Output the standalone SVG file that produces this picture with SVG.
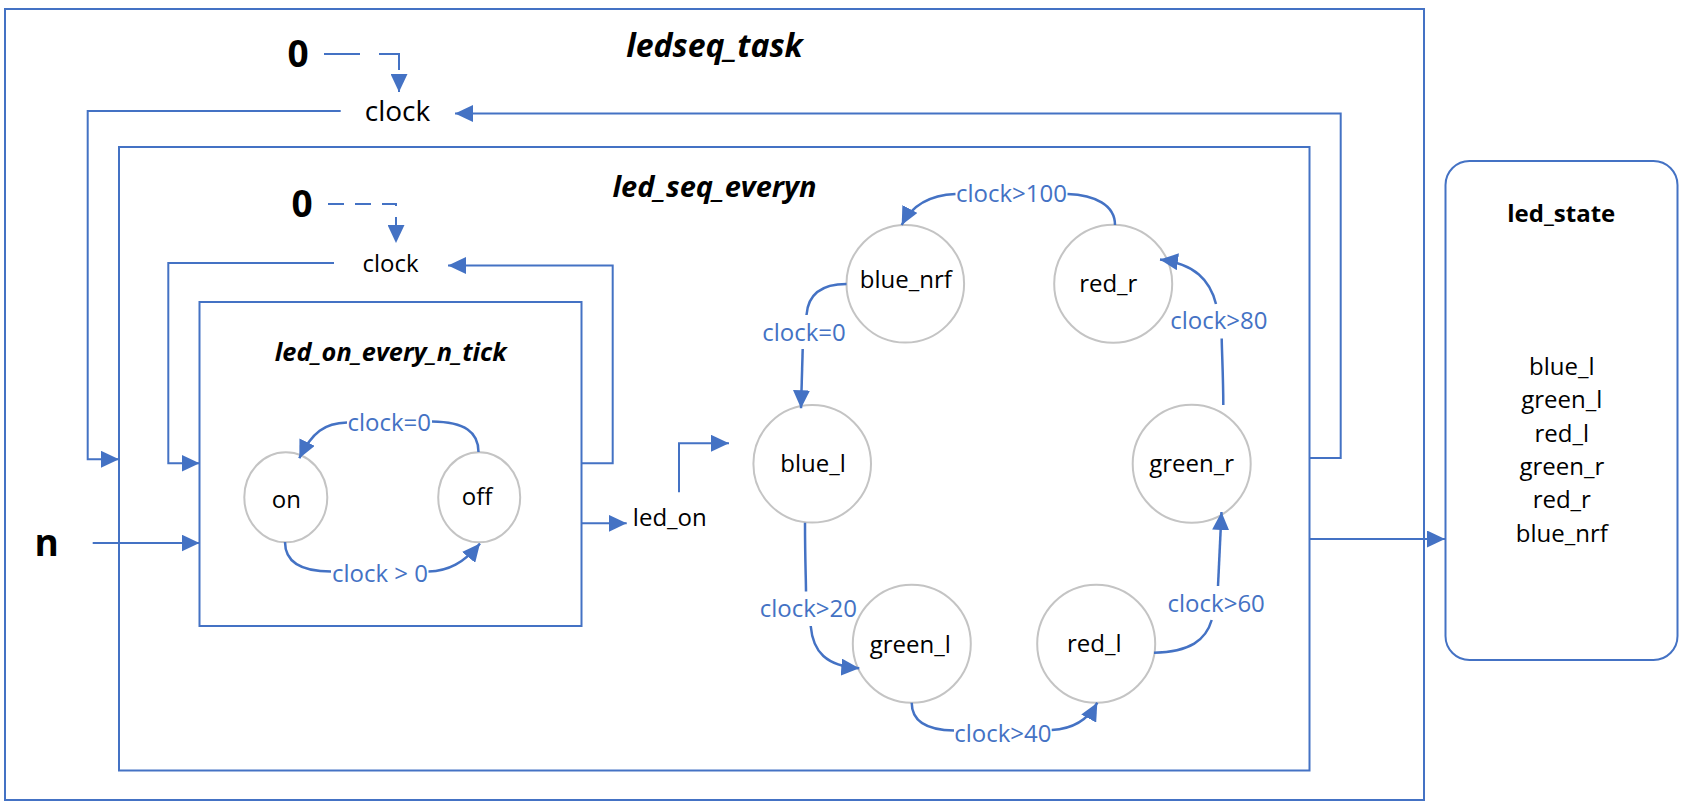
<svg xmlns="http://www.w3.org/2000/svg" width="1688" height="810" viewBox="0 0 1688 810">
<style>
.box{fill:none;stroke:#4472C4;stroke-width:2}
.st{fill:#fff;stroke:#C4C4C4;stroke-width:2}
.ln{fill:none;stroke:#4472C4;stroke-width:2}
.arc{fill:none;stroke:#4472C4;stroke-width:2.5}
.t{font-family:"Open Sans","Noto Sans",sans-serif;fill:#000;text-anchor:middle}
.lab{font-family:"Open Sans","Noto Sans",sans-serif;fill:#4472C4;text-anchor:middle;font-size:24px}
.s24{font-size:24px}
.big{font-size:37px;font-weight:bold}
.ttl{font-weight:bold;font-style:italic}
</style>
<defs>
<marker id="ah" markerUnits="userSpaceOnUse" markerWidth="18" markerHeight="17" refX="18" refY="8.5" orient="auto"><path d="M0,0 L18,8.5 L0,17 z" fill="#4472C4"/></marker>
</defs>
<rect width="1688" height="810" fill="#fff"/>

<g id="ledseq_task">
<rect class="box" x="5" y="9" width="1419" height="791"/>
<text class="t ttl" x="714.5" y="57" font-size="32">ledseq_task</text>
</g>
<g id="zero_top"><text class="t big" x="298" y="67">0</text></g>
<g id="clock_top"><text class="t" x="397.5" y="120.7" font-size="28">clock</text></g>

<g id="led_seq_everyn">
<rect class="box" x="119" y="147" width="1190.5" height="623.5"/>
<text class="t ttl" x="714.5" y="196.7" font-size="29">led_seq_everyn</text>
</g>
<g id="zero_inner"><text class="t big" x="302" y="217">0</text></g>
<g id="clock_inner"><text class="t s24" x="390.5" y="271.7">clock</text></g>
<g id="n_input"><text class="t big" x="46.7" y="556">n</text></g>

<g id="led_on_every_n_tick">
<rect class="box" x="199.5" y="302" width="382" height="324"/>
<text class="t ttl" x="390.8" y="361" font-size="25.3">led_on_every_n_tick</text>
</g>
<g id="on"><ellipse class="st" cx="285.8" cy="497.3" rx="41.5" ry="45"/><text class="t s24" x="286.3" y="507.7">on</text></g>
<g id="off"><ellipse class="st" cx="479.2" cy="497.3" rx="41" ry="45"/><text class="t s24" x="477" y="505">off</text></g>
<g id="led_on"><text class="t s24" x="669.8" y="526">led_on</text></g>

<g id="blue_nrf"><circle class="st" cx="905.3" cy="283.8" r="58.8"/><text class="t s24" x="905.8" y="288.3">blue_nrf</text></g>
<g id="red_r"><circle class="st" cx="1113.2" cy="283.8" r="59"/><text class="t s24" x="1108.3" y="291.7">red_r</text></g>
<g id="blue_l"><circle class="st" cx="812.2" cy="463.8" r="58.8"/><text class="t s24" x="813" y="471.7">blue_l</text></g>
<g id="green_r"><circle class="st" cx="1191.7" cy="463.8" r="59"/><text class="t s24" x="1191.7" y="471.7">green_r</text></g>
<g id="green_l"><circle class="st" cx="911.8" cy="643.8" r="59"/><text class="t s24" x="910.3" y="653.3">green_l</text></g>
<g id="red_l"><circle class="st" cx="1096.2" cy="643.8" r="59"/><text class="t s24" x="1094.3" y="651.7">red_l</text></g>

<g id="led_state">
<rect class="box" x="1445.5" y="161" width="232" height="499" rx="24"/>
<text class="t s24" x="1561.3" y="222" font-weight="bold">led_state</text>
<text class="t s24" x="1561.8" y="375">blue_l</text>
<text class="t s24" x="1561.8" y="408.3">green_l</text>
<text class="t s24" x="1561.8" y="441.6">red_l</text>
<text class="t s24" x="1561.8" y="474.9">green_r</text>
<text class="t s24" x="1561.8" y="508.2">red_r</text>
<text class="t s24" x="1561.8" y="541.5">blue_nrf</text>
</g>

<g id="connectors">
<path class="ln" d="M324,54 H399 V92" stroke-dasharray="36 19" marker-end="url(#ah)"/>
<path class="ln" d="M328,204 H396 V243" stroke-dasharray="16 11" marker-end="url(#ah)"/>
<path class="ln" d="M340.7,111 H87.7 V459.3 H119" marker-end="url(#ah)"/>
<path class="ln" d="M1309.5,458 H1340.7 V113.5 H455" marker-end="url(#ah)"/>
<path class="ln" d="M334,263 H168.3 V463.3 H199.5" marker-end="url(#ah)"/>
<path class="ln" d="M581.5,463.3 H612.7 V265.5 H448" marker-end="url(#ah)"/>
<path class="ln" d="M92.7,543 H199.5" marker-end="url(#ah)"/>
<path class="ln" d="M581.5,523.3 H626.7" marker-end="url(#ah)"/>
<path class="ln" d="M679,492.3 V443.3 H729" marker-end="url(#ah)"/>
<path class="ln" d="M1309.5,539 H1445" marker-end="url(#ah)"/>

<path class="arc" d="M478.5,452 C478.5,432 465,422 432,421.5"/>
<path class="arc" d="M347,422.5 C325,423 312,432 299.3,458.3" marker-end="url(#ah)"/>
<text class="lab" x="389.3" y="430.7">clock=0</text>

<path class="arc" d="M285,542 C285,562 300,571.5 331,571.5"/>
<path class="arc" d="M428.5,571.5 C448,571 464,563 480,543.5" marker-end="url(#ah)"/>
<text class="lab" x="380" y="581.7">clock &gt; 0</text>

<path class="arc" d="M1115,225 C1115,205 1095,195 1067.5,194"/>
<path class="arc" d="M955.5,194 C930,195 912,205 901.7,225" marker-end="url(#ah)"/>
<text class="lab" x="1011.5" y="201.7">clock&gt;100</text>

<path class="arc" d="M846.5,284 C820,284 808,295 806.5,315"/>
<path class="arc" d="M802.7,349 L801,408.3" marker-end="url(#ah)"/>
<text class="lab" x="804" y="340.7">clock=0</text>

<path class="arc" d="M805,522.7 C805,560 806,580 806,591.5"/>
<path class="arc" d="M810.7,626 C813,652 826,666 859.3,668.3" marker-end="url(#ah)"/>
<text class="lab" x="808.3" y="616.7">clock&gt;20</text>

<path class="arc" d="M911.7,702.7 C911.7,720 925,730 954,730.5"/>
<path class="arc" d="M1051.7,730 C1075,729 1089,718 1097.3,702.7" marker-end="url(#ah)"/>
<text class="lab" x="1002.8" y="741.7">clock&gt;40</text>

<path class="arc" d="M1154,652.7 C1190,652 1206,640 1211.7,620"/>
<path class="arc" d="M1218,586 L1221.5,512" marker-end="url(#ah)"/>
<text class="lab" x="1216.2" y="612">clock&gt;60</text>

<path class="arc" d="M1223.3,405 C1223.3,380 1222,355 1221.7,338.5"/>
<path class="arc" d="M1216,304 C1210,280 1195,264 1160,259.5" marker-end="url(#ah)"/>
<text class="lab" x="1218.8" y="328.5">clock&gt;80</text>
</g>
</svg>
